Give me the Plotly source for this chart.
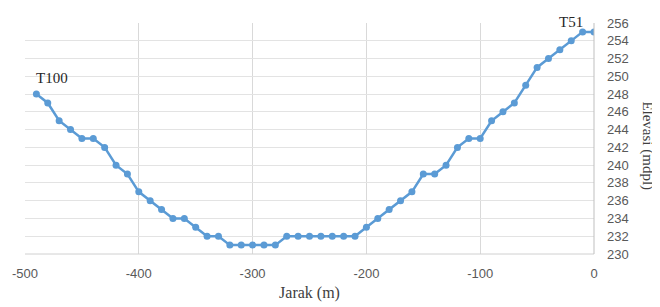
import plotly.graph_objects as go

jarak = [-490, -480, -470, -460, -450, -440, -430, -420, -410, -400,
         -390, -380, -370, -360, -350, -340, -330, -320, -310, -300,
         -290, -280, -270, -260, -250, -240, -230, -220, -210, -200,
         -190, -180, -170, -160, -150, -140, -130, -120, -110, -100,
         -90, -80, -70, -60, -50, -40, -30, -20, -10, 0]
elevasi = [248, 247, 245, 244, 243, 243, 242, 240, 239, 237,
           236, 235, 234, 234, 233, 232, 232, 231, 231, 231,
           231, 231, 232, 232, 232, 232, 232, 232, 232, 233,
           234, 235, 236, 237, 239, 239, 240, 242, 243, 243,
           245, 246, 247, 249, 251, 252, 253, 254, 255, 255]
x_ticks = [-500, -400, -300, -200, -100, 0]
y_ticks = list(range(230, 257, 2))
labels = [("T100", -490, 248, 16, 16), ("T51", -10, 255, -12, 10)]

fig = go.Figure()
fig.add_trace(go.Scatter(
    x=jarak, y=elevasi, mode="lines+markers",
    line=dict(color="#5B9BD5", width=2.5),
    marker=dict(color="#5B9BD5", size=7),
    showlegend=False,
))

fig.update_layout(
    width=660, height=307,
    margin=dict(l=17, r=74, t=15, b=61),
    paper_bgcolor="white", plot_bgcolor="white",
    font=dict(family="Liberation Sans", size=13, color="#595959"),
)
fig.update_xaxes(
    range=[-500, 0], tickvals=x_ticks, ticktext=[str(v) for v in x_ticks],
    showgrid=True, gridcolor="#D9D9D9", gridwidth=1,
    zeroline=False, showline=False, ticks="", automargin=False,
    ticklabelstandoff=10,
    title=dict(text="Jarak (m)", font=dict(family="Liberation Serif", size=16, color="#404040"), standoff=6),
)
fig.update_yaxes(
    range=[230, 256], tickvals=y_ticks, side="right",
    showgrid=True, gridcolor="#E3E3E3", gridwidth=1,
    zeroline=False, showline=False, ticks="", automargin=False,
    ticklabelstandoff=12,
)
# axis lines (bottom and right)
fig.add_shape(type="line", xref="paper", yref="paper", x0=0, x1=1, y0=0, y1=0,
              line=dict(color="#D0D0D0", width=1))
fig.add_shape(type="line", xref="paper", yref="paper", x0=1, x1=1, y0=0, y1=1,
              line=dict(color="#BFBFBF", width=1))

for txt, xv, yv, dx, dy in labels:
    fig.add_annotation(x=xv, y=yv, text=txt, showarrow=False, yshift=dy, xshift=dx,
                       font=dict(family="Liberation Serif", size=15, color="#262626"))

fig.add_annotation(xref="paper", yref="paper", x=1.095, y=0.47, text="Elevasi (mdpl)",
                   textangle=90, showarrow=False, xanchor="center", yanchor="middle",
                   font=dict(family="Liberation Serif", size=15, color="#404040"))

fig.write_html("out.html")
